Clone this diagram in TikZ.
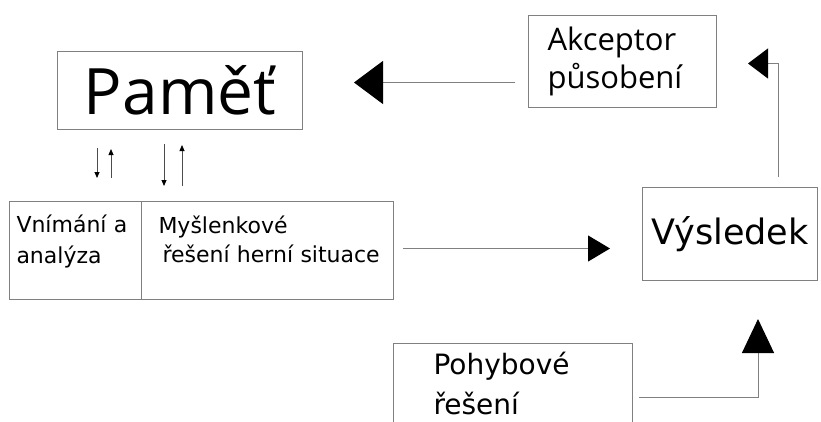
\documentclass[tikz,border=0pt]{standalone}
\usepackage{fontspec}
\setmainfont{DejaVu Sans}
\newfontfamily\opensans{Open Sans}
\usetikzlibrary{arrows.meta}
\usetikzlibrary{positioning}

\tikzset{
  box/.style={draw=black!50, line width=1pt, inner sep=0pt, anchor=north west},
  link/.style={draw=black!50, line width=1pt},
  small/.style={draw=black!70, line width=0.8pt, -{Triangle[length=6pt,width=5pt,color=black]}}
}

\begin{document}
\begin{tikzpicture}[x=1pt, y=-1pt]

    \clip (0,0) rectangle (821,421);
    \fill[white] (0,0) rectangle (821,421);

    % boxes
    \node[box, minimum width=245pt, minimum height=78pt,
          font=\opensans\fontsize{64}{70}\selectfont] (pamet) at (57,51) {Paměť};
    \node[box, minimum height=92pt, inner xsep=19pt, text width=150pt, align=left,
          font=\opensans\fontsize{31}{38}\selectfont] (akceptor) at (528,15) {Akceptor\\působení};
    \node[box, minimum width=175pt, minimum height=93pt,
          font=\fontsize{35}{40}\selectfont] (vysledek) at (642,187) {Výsledek};
    \node[box, minimum height=98pt, inner xsep=7pt, text width=118pt, align=left,
          font=\fontsize{22}{31}\selectfont] (vnimani) at (9,201) {\mbox{Vnímání a}\\analýza\rule[-22pt]{0pt}{0pt}};
    \node[box, minimum height=98pt, inner xsep=17pt, text width=218pt, align=left,
          font=\fontsize{22}{29}\selectfont] (mysleni) at (141,201) {Myšlenkové\\\mbox{\hspace*{4pt}řešení herní situace}\rule[-22pt]{0pt}{0pt}};
    \node[box, minimum height=80pt, inner xsep=40pt, text width=159pt, align=left,
          font=\fontsize{28}{40}\selectfont] (pohyb) at (393,343) {Pohybové\\řešení};

    % big arrows
    \draw[link, -{Triangle[length=29pt,width=43pt,color=black]}, shorten <=13pt, shorten >=51pt]
        ([yshift=-21pt]akceptor.west) -- ([yshift=-21pt]akceptor.west -| pamet.east);
    \draw[link, -{Triangle[length=22pt,width=26pt,color=black]}, shorten <=9pt, shorten >=32pt]
        ([yshift=2pt]mysleni.east) -- ([yshift=2pt]mysleni.east -| vysledek.west);
    \draw[link, -{Triangle[length=20pt,width=30pt,color=black]}, shorten <=10pt, shorten >=31pt]
        ([xshift=48pt]vysledek.north) |- ([yshift=-2pt]akceptor.east);
    \draw[link, -{Triangle[length=34pt,width=32pt,color=black]}, shorten <=6pt, shorten >=38pt]
        ([yshift=-54pt]pohyb.north east) -| ([xshift=28pt]vysledek.south);

    % small arrows
    \draw[small, shorten <=18pt, shorten >=23pt] ([xshift=40pt]pamet.south west) -- ([xshift=40pt]pamet.south west |- vnimani.north);
    \draw[small, shorten <=23pt, shorten >=19pt] ([xshift=54pt]pamet.south west |- vnimani.north) -- ([xshift=54pt]pamet.south west);
    \draw[small, shorten <=14pt, shorten >=15pt] ([xshift=107pt]pamet.south west) -- ([xshift=107pt]pamet.south west |- vnimani.north);
    \draw[small, shorten <=15pt, shorten >=15pt] ([xshift=125pt]pamet.south west |- vnimani.north) -- ([xshift=125pt]pamet.south west);

\end{tikzpicture}
\end{document}
